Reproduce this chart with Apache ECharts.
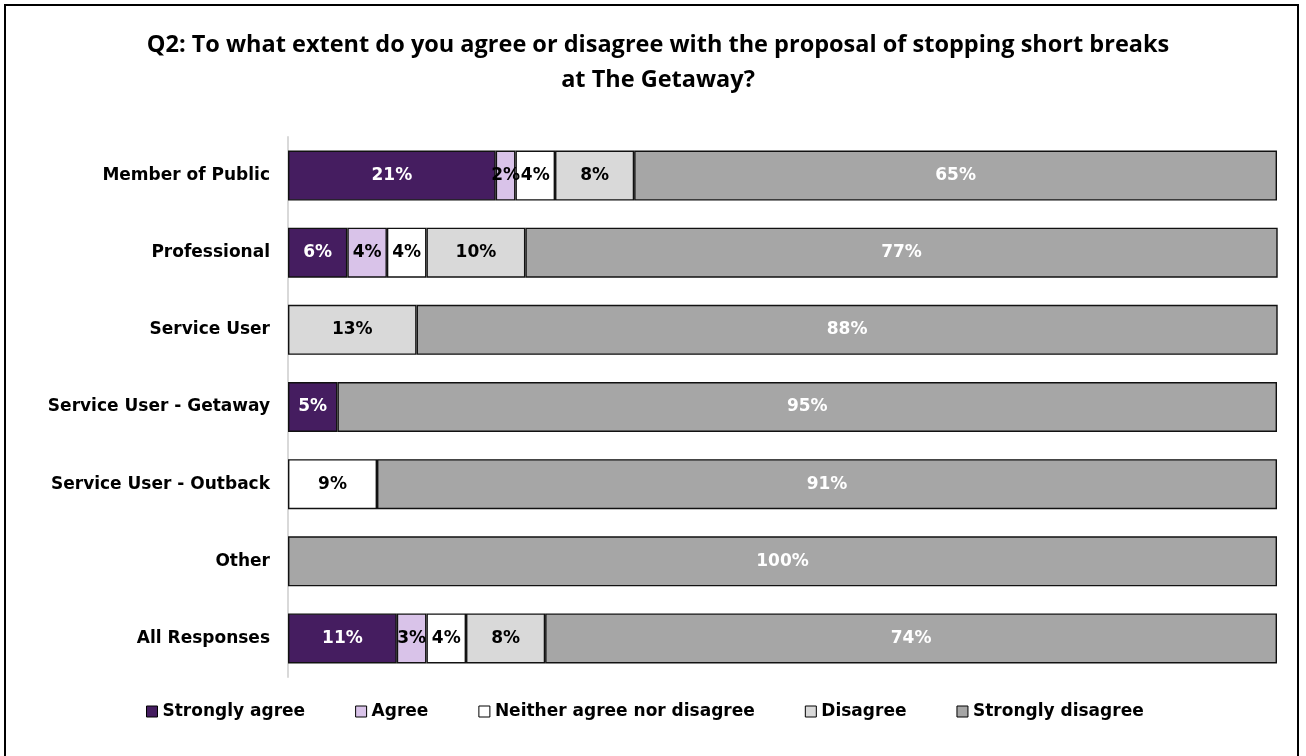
<!DOCTYPE html>
<html>
<head>
<meta charset="utf-8">
<script src="https://cdn.jsdelivr.net/npm/echarts@6/dist/echarts.min.js"></script>
<style>
  html, body { margin: 0; padding: 0; background: #fff; }
  #frame { position: absolute; left: 4px; top: 4px; width: 1295px; height: 800px; border: 2px solid #000; box-sizing: border-box; }
  #chart { position: absolute; left: 0; top: 0; width: 1306px; height: 756px; }
</style>
</head>
<body>
<div id="frame"></div>
<div id="chart"></div>
<script>
// Respondent groups, top to bottom
const categories = [
  'Member of Public',
  'Professional',
  'Service User',
  'Service User - Getaway',
  'Service User - Outback',
  'Other',
  'All Responses'
];

// Share of responses (%) per answer, one value per group (null = no responses)
const stronglyAgree    = [21, 6, null, 5, null, null, 11];
const agree            = [2, 4, null, null, null, null, 3];
const neither          = [4, 4, null, null, 9, null, 4];
const disagree         = [8, 10, 13, null, null, null, 8];
const stronglyDisagree = [65, 77, 88, 95, 91, 100, 74];

const answers = [
  { name: 'Strongly agree', data: stronglyAgree, color: '#451D60', text: '#FFFFFF' },
  { name: 'Agree', data: agree, color: '#D9C3E9', text: '#000000' },
  { name: 'Neither agree nor disagree', data: neither, color: '#FFFFFF', text: '#000000' },
  { name: 'Disagree', data: disagree, color: '#D9D9D9', text: '#000000' },
  { name: 'Strongly disagree', data: stronglyDisagree, color: '#A6A6A6', text: '#FFFFFF' }
];

const FONT = '"DejaVu Sans", "Liberation Sans", Arial, sans-serif';

const chart = echarts.init(document.getElementById('chart'));
chart.setOption({
  animation: false,
  backgroundColor: 'transparent',
  title: {
    text: 'Q2: To what extent do you agree or disagree with the proposal of stopping short breaks\nat The Getaway?',
    left: 653,
    textAlign: 'center',
    top: 23,
    textStyle: {
      fontFamily: '"Open Sans", Lato, sans-serif',
      fontWeight: 'bold',
      fontSize: 23.5,
      lineHeight: 35,
      color: '#000'
    }
  },
  legend: {
    left: 141,
    top: 698,
    itemWidth: 11,
    itemHeight: 11,
    itemGap: 50,
    icon: 'rect',
    selectedMode: false,
    textStyle: { fontFamily: FONT, fontWeight: 'bold', fontSize: 17, color: '#000' },
    itemStyle: { borderColor: '#000', borderWidth: 1 },
    data: answers.map(a => a.name)
  },
  grid: { left: 288, right: 29, top: 137, height: 540, containLabel: false },
  xAxis: {
    type: 'value',
    min: 0,
    max: 100,
    show: false
  },
  yAxis: {
    type: 'category',
    data: categories,
    inverse: true,
    axisLine: { show: true, lineStyle: { color: '#D9D9D9', width: 2 } },
    axisTick: { show: false },
    axisLabel: {
      margin: 18,
      fontFamily: FONT,
      fontWeight: 'bold',
      fontSize: 17,
      color: '#000'
    }
  },
  series: answers.map(a => ({
    name: a.name,
    type: 'bar',
    stack: 'total',
    barWidth: 50,
    data: a.data,
    itemStyle: { color: a.color, borderColor: '#111', borderWidth: 1.4 },
    label: {
      show: true,
      position: 'inside',
      formatter: p => (p.value == null ? '' : p.value + '%'),
      fontFamily: FONT,
      fontWeight: 'bold',
      fontSize: 17,
      color: a.text
    }
  }))
});
</script>
</body>
</html>
